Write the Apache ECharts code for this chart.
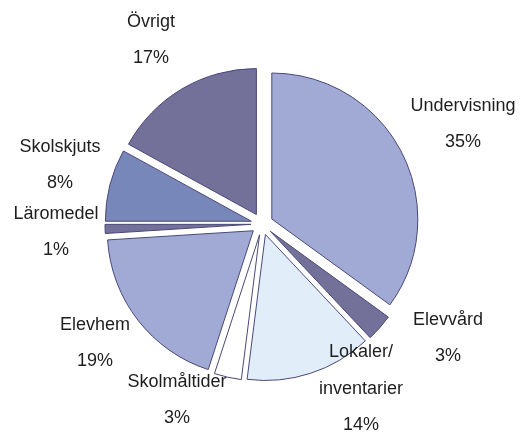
<!DOCTYPE html>
<html>
<head>
<meta charset="utf-8">
<script src="https://cdn.jsdelivr.net/npm/echarts@6/dist/echarts.min.js"></script>
<style>
html,body{margin:0;padding:0;background:#fff;}
#c{width:525px;height:434px;}
</style>
</head>
<body>
<div id="c"></div>
<script>
// Data
const categories = ['Undervisning', 'Elevvård', 'Lokaler/\ninventarier', 'Skolmåltider', 'Elevhem', 'Läromedel', 'Skolskjuts', 'Övrigt'];
const values = [35, 3, 14, 3, 19, 1, 8, 17];

// Styles
const colors = ['#A0AAD4', '#73709A', '#E1EEFA', '#FFFFFF', '#A0AAD4', '#73709A', '#7887BA', '#73709A'];
const labelPos = [[463, 124], [448, 338], [361, 389], [177, 400], [95, 343], [56, 232], [60, 165], [151, 40]];

const chart = echarts.init(document.getElementById('c'), null, {renderer: 'canvas'});
chart.setOption({
  animation: false,
  graphic: categories.map((c, i) => ({
    type: 'text',
    x: labelPos[i][0],
    y: labelPos[i][1],
    z: 100,
    zlevel: 1,
    silent: true,
    style: {
      text: c + '\n' + values[i] + '%',
      fontFamily: 'Liberation Sans, Arial, sans-serif',
      fontSize: 18,
      lineHeight: 36.5,
      fill: '#1e1e1e',
      align: 'center',
      verticalAlign: 'middle'
    }
  })),
  series: [{
    type: 'pie',
    center: [262, 224],
    radius: 146,
    startAngle: 90,
    clockwise: true,
    selectedMode: 'multiple',
    selectedOffset: 11,
    avoidLabelOverlap: false,
    emphasis: {disabled: true},
    itemStyle: {borderColor: '#4a4878', borderWidth: 1},
    label: {show: false},
    labelLine: {show: false},
    data: categories.map((c, i) => ({
      name: c,
      value: values[i],
      selected: true,
      itemStyle: {color: colors[i]}
    }))
  }]
});
</script>
</body>
</html>
